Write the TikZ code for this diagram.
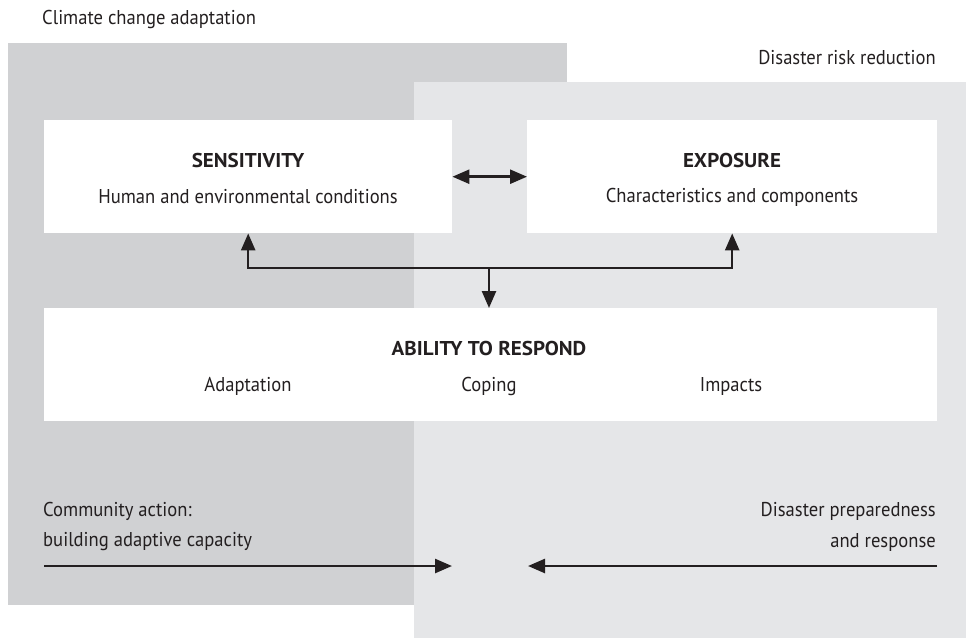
\documentclass[tikz,border=0pt]{standalone}
\usepackage{fontspec}
\setmainfont{PT Sans}[FakeStretch=0.93]
\newfontfamily\ttlfont{PT Sans}[FakeStretch=1.05]
\usetikzlibrary{arrows.meta}
\definecolor{darkgr}{HTML}{D0D1D3}
\definecolor{lightgr}{HTML}{E5E6E8}
\definecolor{ink}{HTML}{231F20}
\tikzset{
  box/.style={fill=white, draw=none, inner sep=0pt, anchor=north west},
  lbl/.style={text=ink, inner sep=0pt, font=\fontsize{20}{22}\selectfont},
  ttl/.style={text=ink, inner sep=0pt, font=\ttlfont\fontsize{20}{22}\selectfont\bfseries},
  tip/.tip={Triangle[length=17pt,width=14pt]},
  conn/.style={draw=ink, line width=2.5pt, -tip},
  dconn/.style={draw=ink, line width=2.5pt, tip-tip},
  plain/.style={draw=ink, line width=2.5pt}
}
\begin{document}
\begin{tikzpicture}[x=1pt,y=-1pt]
\useasboundingbox (0,0) rectangle (974,638);
\fill[darkgr] (8,43) rectangle (567,605);
\fill[lightgr] (414,82) rectangle (966,638);
\node[box, minimum width=408pt, minimum height=113pt] (sens) at (44,120) {};
\node[box, minimum width=410pt, minimum height=113pt] (exp) at (527,120) {};
\node[box, minimum width=893pt, minimum height=113pt] (abil) at (44,308) {};
\node[lbl, anchor=west] (cca) at (42,19) {Climate change adaptation};
\node[lbl, anchor=east] (drr) at (936,58) {Disaster risk reduction};
\node[ttl] (senst) at (248,160) {SENSITIVITY};
\node[lbl] (sensd) at (248,197) {Human and environmental conditions};
\node[ttl] (expt) at (732,160) {EXPOSURE};
\node[lbl] (expd) at (732,197) {Characteristics and components};
\node[ttl] (abt) at (489,348) {ABILITY TO RESPOND};
\node[lbl] (ad) at (248,386) {Adaptation};
\node[lbl] (cop) at (489,386) {Coping};
\node[lbl] (imp) at (731,386) {Impacts};
\node[lbl, anchor=west] (ca1) at (43,511) {Community action:};
\node[lbl, anchor=west] (ca2) at (43,542) {building adaptive capacity};
\node[lbl, anchor=east] (dp1) at (936,511) {Disaster preparedness};
\node[lbl, anchor=east] (dp2) at (936,542) {and response};
\draw[dconn] (sens.east) -- (exp.west);
\coordinate (j) at (489,268);
\draw[conn] (j) -| (sens.south);
\draw[conn] (j) -| (exp.south);
\draw[conn] (j) -- (abil.north -| j);
\coordinate (la) at (44,566);
\coordinate (lb) at (452,566);
\coordinate (ra) at (937,566);
\coordinate (rb) at (528,566);
\draw[conn] (la) -- (lb);
\draw[conn] (ra) -- (rb);
\end{tikzpicture}
\end{document}
